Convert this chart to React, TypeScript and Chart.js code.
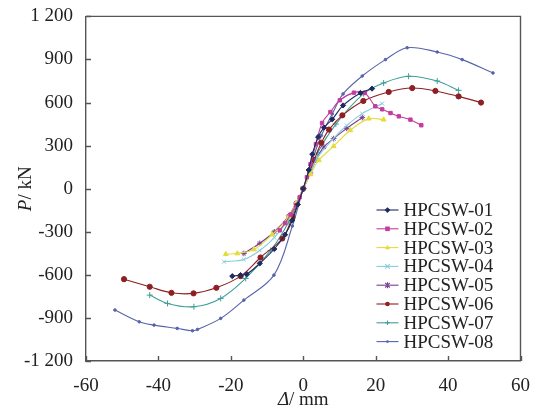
import React, { useEffect, useRef } from "react";
import { Chart, registerables } from "chart.js";

Chart.register(...registerables);

// Specimen names
const SPECIMENS = [
  "HPCSW-01",
  "HPCSW-02",
  "HPCSW-03",
  "HPCSW-04",
  "HPCSW-05",
  "HPCSW-06",
  "HPCSW-07",
  "HPCSW-08",
];

// Skeleton curves: displacement Δ (mm) and load P (kN)
const d01 = [-19.6, -17.3, -15.6, -12, -8, -5, -3, -1.5, 0, 1.5, 2.5, 4.1, 5.7, 8, 11, 15.8, 19];
const p01 = [-609, -602, -595, -520, -420, -320, -220, -110, 0, 130, 240, 360, 426, 483, 580, 667, 697];

const d02 = [-6.5, -5, -3.5, -2, -1, 0, 1, 2, 3.5, 5.2, 7.5, 10.1, 14, 17, 19.9, 21.8, 24.1, 26.4, 29.6, 32.6];
const p02 = [-290, -240, -180, -115, -60, 0, 80, 170, 310, 458, 534, 616, 669, 667, 574, 553, 527, 504, 481, 442];

const d03 = [-21.4, -18.2, -13.6, -8.6, -4, -2, 0, 2, 4.3, 8.4, 13, 18.1, 22.2];
const p03 = [-456, -451, -423, -320, -196, -100, 0, 100, 198, 296, 407, 488, 481];

const d04 = [-21.9, -16.4, -12, -8, -4, -2, 0, 2, 4, 8, 12, 16.3, 21.8];
const p04 = [-509, -493, -430, -340, -210, -110, 0, 110, 220, 340, 440, 523, 593];

const d05 = [-16.4, -12, -8, -4, -2, 0, 2, 3.5, 5.7, 8.4, 12, 16.3];
const p05 = [-451, -380, -300, -190, -100, 0, 110, 200, 291, 349, 420, 495];

const d06 = [-49.5, -42.4, -36.4, -30.3, -24, -17.3, -11.8, -5.8, -3, 0, 3, 5, 7.1, 10.8, 16.6, 23.6, 30.1, 36.5, 42.9, 49.1];
const p06 = [-630, -683, -725, -729, -690, -609, -479, -347, -200, 0, 200, 320, 412, 511, 611, 674, 701, 681, 643, 600];

const d07 = [-42.4, -37.5, -30.2, -22.8, -15.9, -9, -4, 0, 4, 9, 16.7, 22.2, 29.1, 37, 42.9];
const p07 = [-741, -799, -822, -764, -625, -430, -230, 0, 250, 450, 662, 736, 783, 750, 685];

const d08 = [-52, -45.3, -41.2, -34.8, -30.6, -29.2, -22.8, -16.4, -8.1, -3, 0, 2, 5, 8, 11, 16.3, 22.7, 28.7, 37, 43.9, 52.4];
const p08 = [-845, -927, -950, -973, -989, -980, -903, -776, -602, -260, 0, 160, 370, 520, 660, 785, 899, 982, 952, 899, 806];

const DISPLACEMENTS = [d01, d02, d03, d04, d05, d06, d07, d08];
const LOADS = [p01, p02, p03, p04, p05, p06, p07, p08];

// Axis ticks
const D_TICKS = [-60, -40, -20, 0, 20, 40, 60];
const P_TICKS = [-1200, -900, -600, -300, 0, 300, 600, 900, 1200];

const COLORS = ["#1f2a5e", "#c43c9e", "#e3dc3c", "#86cde0", "#7a3d8f", "#8e1f22", "#3f9f98", "#5764aa"];
const MARKERS = ["rectRot", "rect", "triangle", "crossRot", "star", "circle", "cross", "circle"];
const RADII = [2.6, 2.4, 2.8, 2.8, 2.8, 2.6, 3, 1.3];

const FONT = "'Liberation Serif', 'Times New Roman', serif";
const INK = "#222";
const AXIS = "#555";

function fmt(v: number): string {
  const s = Math.abs(v).toString();
  const body = s.length > 3 ? s.slice(0, s.length - 3) + " " + s.slice(-3) : s;
  return (v < 0 ? "-" : "") + body;
}

function marker(ctx: CanvasRenderingContext2D, style: string, x: number, y: number, r: number, color: string) {
  ctx.save();
  ctx.fillStyle = color;
  ctx.strokeStyle = color;
  ctx.lineWidth = 1.1;
  ctx.beginPath();
  switch (style) {
    case "rectRot":
      ctx.moveTo(x, y - r * 1.25);
      ctx.lineTo(x + r * 1.25, y);
      ctx.lineTo(x, y + r * 1.25);
      ctx.lineTo(x - r * 1.25, y);
      ctx.closePath();
      ctx.fill();
      break;
    case "rect":
      ctx.rect(x - r, y - r, r * 2, r * 2);
      ctx.fill();
      break;
    case "triangle":
      ctx.moveTo(x, y - r * 1.2);
      ctx.lineTo(x + r * 1.1, y + r * 0.7);
      ctx.lineTo(x - r * 1.1, y + r * 0.7);
      ctx.closePath();
      ctx.fill();
      break;
    case "crossRot":
      ctx.moveTo(x - r, y - r);
      ctx.lineTo(x + r, y + r);
      ctx.moveTo(x + r, y - r);
      ctx.lineTo(x - r, y + r);
      ctx.stroke();
      break;
    case "star":
      ctx.moveTo(x - r, y - r);
      ctx.lineTo(x + r, y + r);
      ctx.moveTo(x + r, y - r);
      ctx.lineTo(x - r, y + r);
      ctx.moveTo(x, y - r * 1.3);
      ctx.lineTo(x, y + r * 1.3);
      ctx.stroke();
      break;
    case "cross":
      ctx.moveTo(x, y - r);
      ctx.lineTo(x, y + r);
      ctx.moveTo(x - r, y);
      ctx.lineTo(x + r, y);
      ctx.stroke();
      break;
    default:
      ctx.arc(x, y, r, 0, Math.PI * 2);
      ctx.fill();
  }
  ctx.restore();
}

// Frame on top/right, inward tick marks, axis titles and the inset legend
const decorations = {
  id: "decorations",
  afterDraw(chart: any) {
    const { ctx, chartArea: a, scales } = chart;
    ctx.save();
    ctx.strokeStyle = AXIS;
    ctx.lineWidth = 1.4;
    ctx.beginPath();
    ctx.moveTo(a.left, a.top);
    ctx.lineTo(a.right, a.top);
    ctx.lineTo(a.right, a.bottom);
    ctx.stroke();

    ctx.beginPath();
    for (const v of D_TICKS) {
      const px = Math.round(scales.x.getPixelForValue(v)) + 0.5;
      ctx.moveTo(px, a.bottom);
      ctx.lineTo(px, a.bottom - 5);
    }
    for (const v of P_TICKS) {
      const py = Math.round(scales.y.getPixelForValue(v)) + 0.5;
      ctx.moveTo(a.left, py);
      ctx.lineTo(a.left + 5, py);
    }
    ctx.stroke();

    // Axis titles with an italic symbol
    ctx.fillStyle = INK;
    ctx.textBaseline = "middle";
    const italic = `italic 19px ${FONT}`;
    const roman = `19px ${FONT}`;

    ctx.font = italic;
    const wD = ctx.measureText("\u0394").width;
    ctx.font = roman;
    const wMm = ctx.measureText("/ mm").width;
    const cx = (a.left + a.right) / 2;
    let sx = cx - (wD + wMm) / 2;
    ctx.textAlign = "left";
    ctx.font = italic;
    ctx.fillText("\u0394", sx, 400);
    ctx.font = roman;
    ctx.fillText("/ mm", sx + wD, 400);

    ctx.save();
    ctx.translate(26, scales.y.getPixelForValue(0));
    ctx.rotate(-Math.PI / 2);
    ctx.font = italic;
    const wP = ctx.measureText("P").width;
    ctx.font = roman;
    const wKn = ctx.measureText("/ kN").width;
    sx = -(wP + wKn) / 2;
    ctx.font = italic;
    ctx.fillText("P", sx, 0);
    ctx.font = roman;
    ctx.fillText("/ kN", sx + wP, 0);
    ctx.restore();

    // Legend
    const lx0 = a.right - 144;
    const ly0 = a.bottom - 151;
    const rowH = 18.8;
    chart.data.datasets.forEach((ds: any, i: number) => {
      const y = ly0 + i * rowH;
      ctx.strokeStyle = ds.borderColor;
      ctx.lineWidth = 1.1;
      ctx.beginPath();
      ctx.moveTo(lx0, y);
      ctx.lineTo(lx0 + 22, y);
      ctx.stroke();
      marker(ctx, MARKERS[i], lx0 + 11, y, Math.min(RADII[i], 2.3), ds.borderColor);
      ctx.fillStyle = INK;
      ctx.font = roman;
      ctx.textAlign = "left";
      ctx.fillText(ds.label, lx0 + 27, y + 1);
    });
    ctx.restore();
  },
};

export default function App() {
  const ref = useRef<HTMLCanvasElement | null>(null);

  useEffect(() => {
    if (!ref.current) return;
    const datasets = SPECIMENS.map((name, i) => ({
      label: name,
      data: DISPLACEMENTS[i].map((d, k) => ({ x: d, y: LOADS[i][k] })),
      borderColor: COLORS[i],
      backgroundColor: COLORS[i],
      pointBackgroundColor: COLORS[i],
      pointBorderColor: COLORS[i],
      pointStyle: MARKERS[i] as any,
      pointRadius: RADII[i],
      pointBorderWidth: 1,
      borderWidth: 1.1,
      tension: 0.35,
      showLine: true,
      fill: false,
    }));

    const chart = new Chart(ref.current, {
      type: "line",
      data: { datasets },
      options: {
        animation: false,
        responsive: false,
        events: [],
        layout: { padding: { left: 0, right: 15, top: 16, bottom: 0 } },
        plugins: { legend: { display: false }, tooltip: { enabled: false } },
        scales: {
          x: {
            type: "linear",
            min: -60,
            max: 60,
            afterBuildTicks: (s: any) => {
              s.ticks = D_TICKS.map((v) => ({ value: v }));
            },
            afterFit: (s: any) => {
              s.height = 49;
            },
            grid: { display: false },
            border: { display: true, color: AXIS, width: 1.4 },
            ticks: {
              color: INK,
              font: { family: FONT, size: 19 },
              padding: 6,
              maxRotation: 0,
              callback: (v: any) => fmt(Number(v)),
            },
          },
          y: {
            type: "linear",
            min: -1200,
            max: 1200,
            afterBuildTicks: (s: any) => {
              s.ticks = P_TICKS.map((v) => ({ value: v }));
            },
            afterFit: (s: any) => {
              s.width = 86;
            },
            grid: { display: false },
            border: { display: true, color: AXIS, width: 1.4 },
            ticks: {
              color: INK,
              font: { family: FONT, size: 19 },
              padding: 5,
              callback: (v: any) => fmt(Number(v)),
            },
          },
        },
      },
      plugins: [decorations],
    });
    return () => chart.destroy();
  }, []);

  return (
    <div style={{ position: "fixed", left: 0, top: 0, width: 536, height: 410, background: "#fff" }}>
      <canvas ref={ref} width={536} height={410} style={{ display: "block" }} />
    </div>
  );
}
